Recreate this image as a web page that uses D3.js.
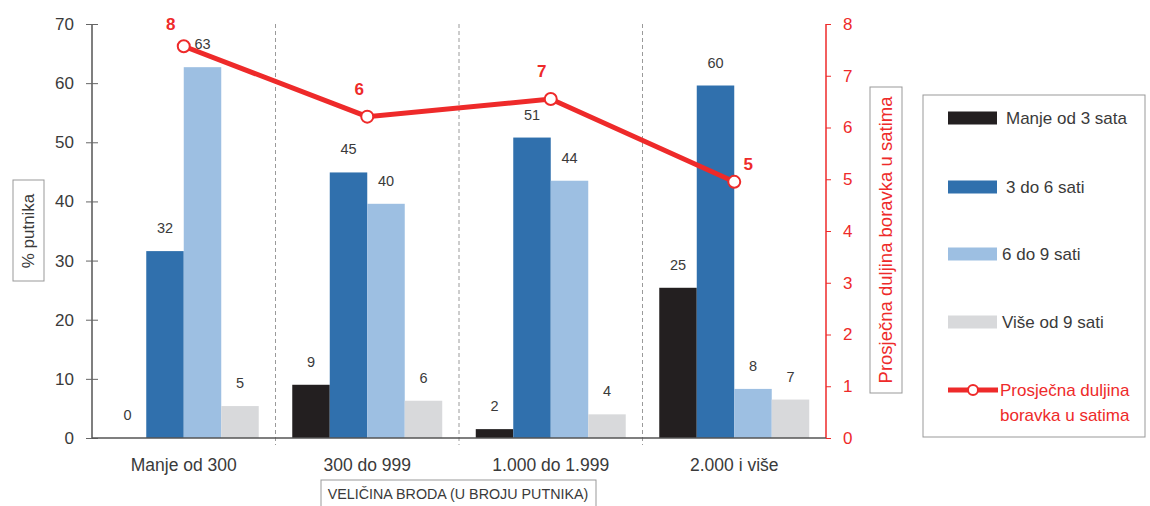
<!DOCTYPE html>
<html>
<head>
<meta charset="utf-8">
<script src="https://cdn.jsdelivr.net/npm/d3@7"></script>
<style>
body { margin: 0; background: #fff; }
svg { font-family: "Liberation Sans", Arial, sans-serif; }
</style>
</head>
<body>
<svg></svg>
<script>
var categories = ["Manje od 300", "300 do 999", "1.000 do 1.999", "2.000 i više"];
var seriesNames = ["Manje od 3 sata", "3 do 6 sati", "6 do 9 sati", "Više od 9 sati"];
var lessThan3 = [0, 9.0, 1.5, 25.4];
var from3to6 = [31.6, 44.9, 50.8, 59.6];
var from6to9 = [62.7, 39.6, 43.5, 8.3];
var moreThan9 = [5.4, 6.3, 4.0, 6.5];
var avgStay = [7.57, 6.21, 6.55, 4.95];
var leftTicks = [0, 10, 20, 30, 40, 50, 60, 70];
var rightTicks = [0, 1, 2, 3, 4, 5, 6, 7, 8];

var COLORS = ["#231f20", "#3070ad", "#9dbfe2", "#d8d9db"],
	RED = "#ee2a2a",
	TEXT = "#3a3a3a";

var WIDTH = 1150, HEIGHT = 506;
var PLOT = {left: 92, right: 826, top: 24, bottom: 438};

// Where each average-stay label sits relative to its point (dx, dy of baseline)
var PT_LABEL_OFFSET = [[-13, -16], [-8, -22], [-9, -22], [14, -12]];

var svg = d3.select("svg")
	.attr("width", WIDTH)
	.attr("height", HEIGHT);

var series = [lessThan3, from3to6, from6to9, moreThan9];

// Scales
var x0 = d3.scaleBand().domain(categories).range([PLOT.left, PLOT.right]).padding(0);
var x1 = d3.scaleBand().domain(d3.range(4)).range([0, x0.bandwidth()]).paddingInner(0).paddingOuter(0.447);
var yL = d3.scaleLinear().domain([0, 70]).range([PLOT.bottom, PLOT.top]);
var yR = d3.scaleLinear().domain([0, 8]).range([PLOT.bottom, PLOT.top]);

//////////// Dashed dividers between categories
svg.selectAll("line.divider")
	.data(categories.slice(1))
  .enter().append("line")
	.attr("class", "divider")
	.attr("x1", function(d) {return x0(d);})
	.attr("x2", function(d) {return x0(d);})
	.attr("y1", PLOT.top)
	.attr("y2", PLOT.bottom + 7)
	.attr("stroke", "#9a9a9a")
	.attr("stroke-width", 1)
	.attr("stroke-dasharray", "4,3");

//////////// Bars
var group = svg.selectAll("g.cat")
	.data(categories)
  .enter().append("g")
	.attr("class", "cat")
	.attr("transform", function(d) {return "translate(" + x0(d) + ",0)";});

function cells(d, i) {return series.map(function(s, j) {return {j: j, v: s[i]};});}

group.selectAll("rect")
	.data(cells)
  .enter().append("rect")
	.attr("x", function(d) {return x1(d.j);})
	.attr("width", x1.bandwidth())
	.attr("y", function(d) {return yL(d.v);})
	.attr("height", function(d) {return PLOT.bottom - yL(d.v);})
	.attr("fill", function(d) {return COLORS[d.j];});

group.selectAll("text")
	.data(cells)
  .enter().append("text")
	.text(function(d) {return d.v.toFixed(0);})
	.attr("x", function(d) {return x1(d.j) + x1.bandwidth() / 2;})
	.attr("y", function(d) {return yL(d.v) - 18;})
	.attr("text-anchor", "middle")
	.attr("font-size", 14.5)
	.attr("fill", TEXT);

//////////// Axes
var leftAxis = svg.append("g")
	.attr("transform", "translate(" + PLOT.left + ",0)")
	.call(d3.axisLeft(yL).tickValues(leftTicks).tickSize(6).tickPadding(12));
leftAxis.selectAll(".tick line").attr("x2", 6).attr("x1", -6).attr("stroke", "#666");
leftAxis.select(".domain").attr("stroke", "#555").attr("stroke-width", 1.5).attr("d", "M0," + PLOT.top + "V" + PLOT.bottom);
leftAxis.selectAll("text").attr("font-size", 17).attr("fill", TEXT);

var rightAxis = svg.append("g")
	.attr("transform", "translate(" + PLOT.right + ",0)")
	.call(d3.axisRight(yR).tickValues(rightTicks).tickSize(5).tickPadding(12));
rightAxis.selectAll(".tick line").attr("stroke", RED);
rightAxis.select(".domain").attr("stroke", RED).attr("stroke-width", 1.5).attr("d", "M0," + PLOT.top + "V" + PLOT.bottom);
rightAxis.selectAll("text").attr("font-size", 17).attr("fill", RED);

var bottomAxis = svg.append("g")
	.attr("transform", "translate(0," + PLOT.bottom + ")")
	.call(d3.axisBottom(x0).tickSize(0).tickPadding(21));
bottomAxis.select(".domain").attr("stroke", "#555").attr("stroke-width", 1.5).attr("d", "M" + PLOT.left + ",0H" + PLOT.right);
bottomAxis.selectAll("text").attr("font-size", 17.5).attr("fill", TEXT);

//////////// Line for average stay
function ptX(i) {return x0(categories[i]) + x0.bandwidth() / 2;}

var lineGen = d3.line()
	.x(function(d, i) {return ptX(i);})
	.y(function(d) {return yR(d);});

svg.append("path")
	.datum(avgStay)
	.attr("d", lineGen)
	.attr("fill", "none")
	.attr("stroke", RED)
	.attr("stroke-width", 5);

svg.selectAll("circle.pt")
	.data(avgStay)
  .enter().append("circle")
	.attr("class", "pt")
	.attr("cx", function(d, i) {return ptX(i);})
	.attr("cy", function(d) {return yR(d);})
	.attr("r", 6)
	.attr("fill", "#fff")
	.attr("stroke", RED)
	.attr("stroke-width", 2);

svg.selectAll("text.pt")
	.data(avgStay)
  .enter().append("text")
	.attr("class", "pt")
	.text(function(d) {return d.toFixed(0);})
	.attr("x", function(d, i) {return ptX(i) + PT_LABEL_OFFSET[i][0];})
	.attr("y", function(d, i) {return yR(d) + PT_LABEL_OFFSET[i][1];})
	.attr("text-anchor", "middle")
	.attr("font-size", 17)
	.attr("font-weight", "bold")
	.attr("fill", RED);

//////////// Axis titles in boxes
var yTitle = svg.append("g").attr("transform", "translate(28,231)");
yTitle.append("rect").attr("x", -50).attr("y", -15).attr("width", 101).attr("height", 31)
	.attr("transform", "rotate(-90)").attr("fill", "#fff").attr("stroke", "#999");
yTitle.append("text").text("% putnika").attr("transform", "rotate(-90)")
	.attr("text-anchor", "middle").attr("dy", "0.35em").attr("font-size", 17).attr("fill", TEXT);

var rTitle = svg.append("g").attr("transform", "translate(886,240)");
rTitle.append("rect").attr("x", -153).attr("y", -16).attr("width", 306).attr("height", 32)
	.attr("transform", "rotate(-90)").attr("fill", "#fff").attr("stroke", "#999");
rTitle.append("text").text("Prosječna duljina boravka u satima").attr("transform", "rotate(-90)")
	.attr("text-anchor", "middle").attr("dy", "0.35em").attr("font-size", 18.5).attr("fill", RED);

svg.append("rect").attr("x", 321).attr("y", 480).attr("width", 275).attr("height", 30)
	.attr("fill", "#fff").attr("stroke", "#999");
svg.append("text").text("VELIČINA BRODA (U BROJU PUTNIKA)")
	.attr("x", 458).attr("y", 499).attr("text-anchor", "middle")
	.attr("font-size", 14.3).attr("fill", TEXT);

//////////// Legend
var legend = svg.append("g").attr("transform", "translate(923,95)");
legend.append("rect").attr("width", 222).attr("height", 342).attr("fill", "#fff").attr("stroke", "#999");

var LEG_Y = [23, 92, 159, 227];
var legItem = legend.selectAll("g.item")
	.data(seriesNames)
  .enter().append("g")
	.attr("class", "item")
	.attr("transform", function(d, i) {return "translate(25," + LEG_Y[i] + ")";});
legItem.append("rect").attr("x", 0).attr("y", -6.5).attr("width", 49).attr("height", 13)
	.attr("fill", function(d, i) {return COLORS[i];});
legItem.append("text").text(function(d) {return d;})
	.attr("x", function(d, i) {return i < 2 ? 58 : 54;}).attr("dy", "0.35em")
	.attr("font-size", 17).attr("fill", TEXT);

var lineItem = legend.append("g").attr("transform", "translate(25,295)");
lineItem.append("line").attr("x1", 0).attr("x2", 50).attr("stroke", RED).attr("stroke-width", 5);
lineItem.append("circle").attr("cx", 25).attr("r", 5).attr("fill", "#fff").attr("stroke", RED).attr("stroke-width", 2);
lineItem.append("text").attr("x", 52).attr("dy", "0.35em").attr("font-size", 17).attr("fill", RED)
	.text("Prosječna duljina");
lineItem.append("text").attr("x", 52).attr("y", 25).attr("dy", "0.35em").attr("font-size", 17).attr("fill", RED)
	.text("boravka u satima");
</script>
</body>
</html>
